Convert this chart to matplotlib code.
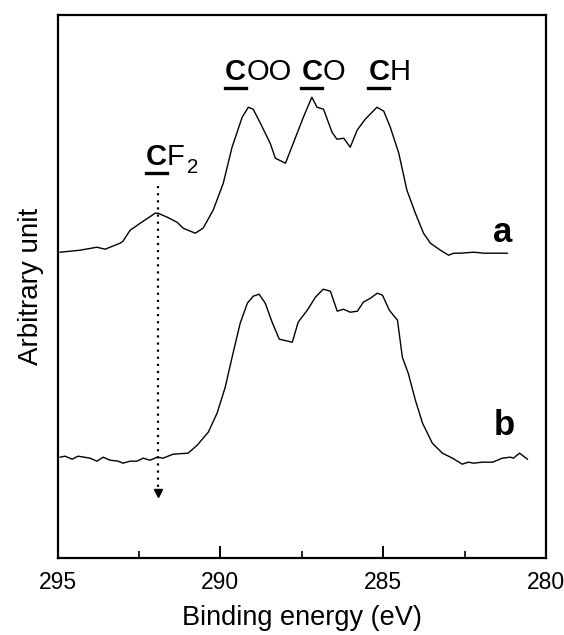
import numpy as np
import matplotlib
matplotlib.use("Agg")
import matplotlib.pyplot as plt
from matplotlib.lines import Line2D
from matplotlib.ticker import MultipleLocator
from matplotlib.transforms import ScaledTranslation

plt.rcParams['font.family'] = ['Liberation Sans', 'DejaVu Sans']

# spectrum a (with CF2 shoulder), binding energy in eV vs arbitrary intensity
energy_a = [294.92, 294.31, 293.79, 293.54, 293.08, 292.99, 292.77, 292.46, 292.00, 291.91,
            291.63, 291.33, 291.14, 290.77, 290.53, 290.22, 289.91, 289.64, 289.33, 289.14,
            288.99, 288.77, 288.47, 288.31, 288.00, 287.76, 287.45, 287.19, 287.03, 286.83,
            286.57, 286.42, 286.21, 286.01, 285.80, 285.55, 285.19, 284.98, 284.78, 284.52,
            284.27, 284.01, 283.76, 283.55, 283.24, 282.99, 282.83, 282.63, 282.22, 281.91,
            281.60, 281.19]
counts_a = [306, 308, 311, 309, 315, 317, 328, 335, 345, 345,
            341, 336, 330, 325, 330, 348, 375, 411, 441, 451,
            449, 435, 415, 400, 395, 415, 441, 461, 451, 449,
            426, 419, 420, 411, 428, 439, 451, 447, 431, 405,
            368, 345, 325, 315, 308, 303, 305, 305, 306, 305,
            305, 305]

# spectrum b
energy_b = [294.92, 294.77, 294.55, 294.37, 294.00, 293.79, 293.60, 293.39, 293.14, 292.99,
            292.77, 292.56, 292.37, 292.16, 291.94, 291.76, 291.45, 290.99, 290.71, 290.37,
            290.10, 289.85, 289.61, 289.39, 289.17, 288.99, 288.81, 288.62, 288.41, 288.19,
            287.79, 287.61, 287.33, 287.08, 286.84, 286.62, 286.41, 286.22, 286.01, 285.79,
            285.61, 285.39, 285.18, 285.02, 284.81, 284.56, 284.41, 284.23, 284.01, 283.79,
            283.49, 283.18, 282.87, 282.57, 282.38, 282.23, 281.95, 281.64, 281.34, 281.09,
            281.00, 280.81, 280.57]
counts_b = [101, 102, 99, 102, 100, 97, 101, 98, 97, 95,
            97, 97, 100, 98, 101, 100, 104, 105, 113, 126,
            145, 171, 205, 235, 255, 262, 264, 255, 236, 219,
            216, 236, 248, 261, 269, 267, 247, 249, 246, 247,
            256, 260, 265, 263, 248, 238, 201, 185, 158, 135,
            115, 105, 100, 94, 96, 95, 96, 96, 100, 101,
            100, 105, 99]

cf2_energy = 291.91

W, H = 564, 635
fig = plt.figure(figsize=(W / 100, H / 100), dpi=100)
ax = fig.add_axes([0.102, 0.121, 0.866, 0.855])

ax.plot(energy_a, counts_a, color='black', lw=1.0)
ax.plot(energy_b, counts_b, color='black', lw=1.0)

# dotted arrow marking the CF2 position
ax.plot([cf2_energy, cf2_energy], [372, 68], color='black', ls=(0, (1, 2.2)), lw=1.6)
ax.plot(cf2_energy, 65, marker='v', color='black', ms=6)

ax.set_xlim(295, 280)
ax.set_ylim(0, 543)
ax.set_yticks([])
ax.xaxis.set_major_locator(MultipleLocator(5))
ax.xaxis.set_minor_locator(MultipleLocator(2.5))
ax.tick_params(axis='x', which='major', direction='in', length=9, width=1.4,
               labelsize=16.5, pad=9)
ax.tick_params(axis='x', which='minor', direction='in', length=5, width=1.2)
for s in ax.spines.values():
    s.set_linewidth(1.6)

# last tick label sits a little left of its tick in the original
fig.canvas.draw()
last = ax.get_xticklabels()[-1]
last.set_transform(last.get_transform() + ScaledTranslation(-6 / 100, 0, fig.dpi_scale_trans))

ax.set_xlabel('Binding energy (eV)', fontsize=19.5, labelpad=8)
ax.set_ylabel('Arbitrary unit', fontsize=20, labelpad=10)

ax.text(281.33, 326, 'a', fontsize=25, fontweight='bold', ha='center', va='center')
ax.text(281.27, 133, 'b', fontsize=25, fontweight='bold', ha='center', va='center')

renderer = fig.canvas.get_renderer()


def peak_label(e, y, rest, sub=None, size=21):
    # bold underlined C followed by the rest of the group
    px, py = ax.transData.transform((e, y))
    t = fig.text(px / W, py / H, 'C', fontsize=size, fontweight='bold',
                 ha='left', va='baseline')
    bb = t.get_window_extent(renderer)
    fig.add_artist(Line2D([bb.x0 / W, bb.x1 / W], [(py - 8) / H, (py - 8) / H],
                          transform=fig.transFigure, color='black', lw=2.4))
    t2 = fig.text(bb.x1 / W, py / H, rest, fontsize=size, ha='left', va='baseline')
    if sub:
        bb2 = t2.get_window_extent(renderer)
        fig.text((bb2.x1 + 2) / W, (py - 8) / H, sub, fontsize=size * 0.7,
                 ha='left', va='baseline')


peak_label(289.85, 478, 'OO')
peak_label(287.51, 478, 'O')
peak_label(285.45, 478, 'H')
peak_label(292.28, 393, 'F', sub='2')

fig.savefig('out.png', dpi=100)
